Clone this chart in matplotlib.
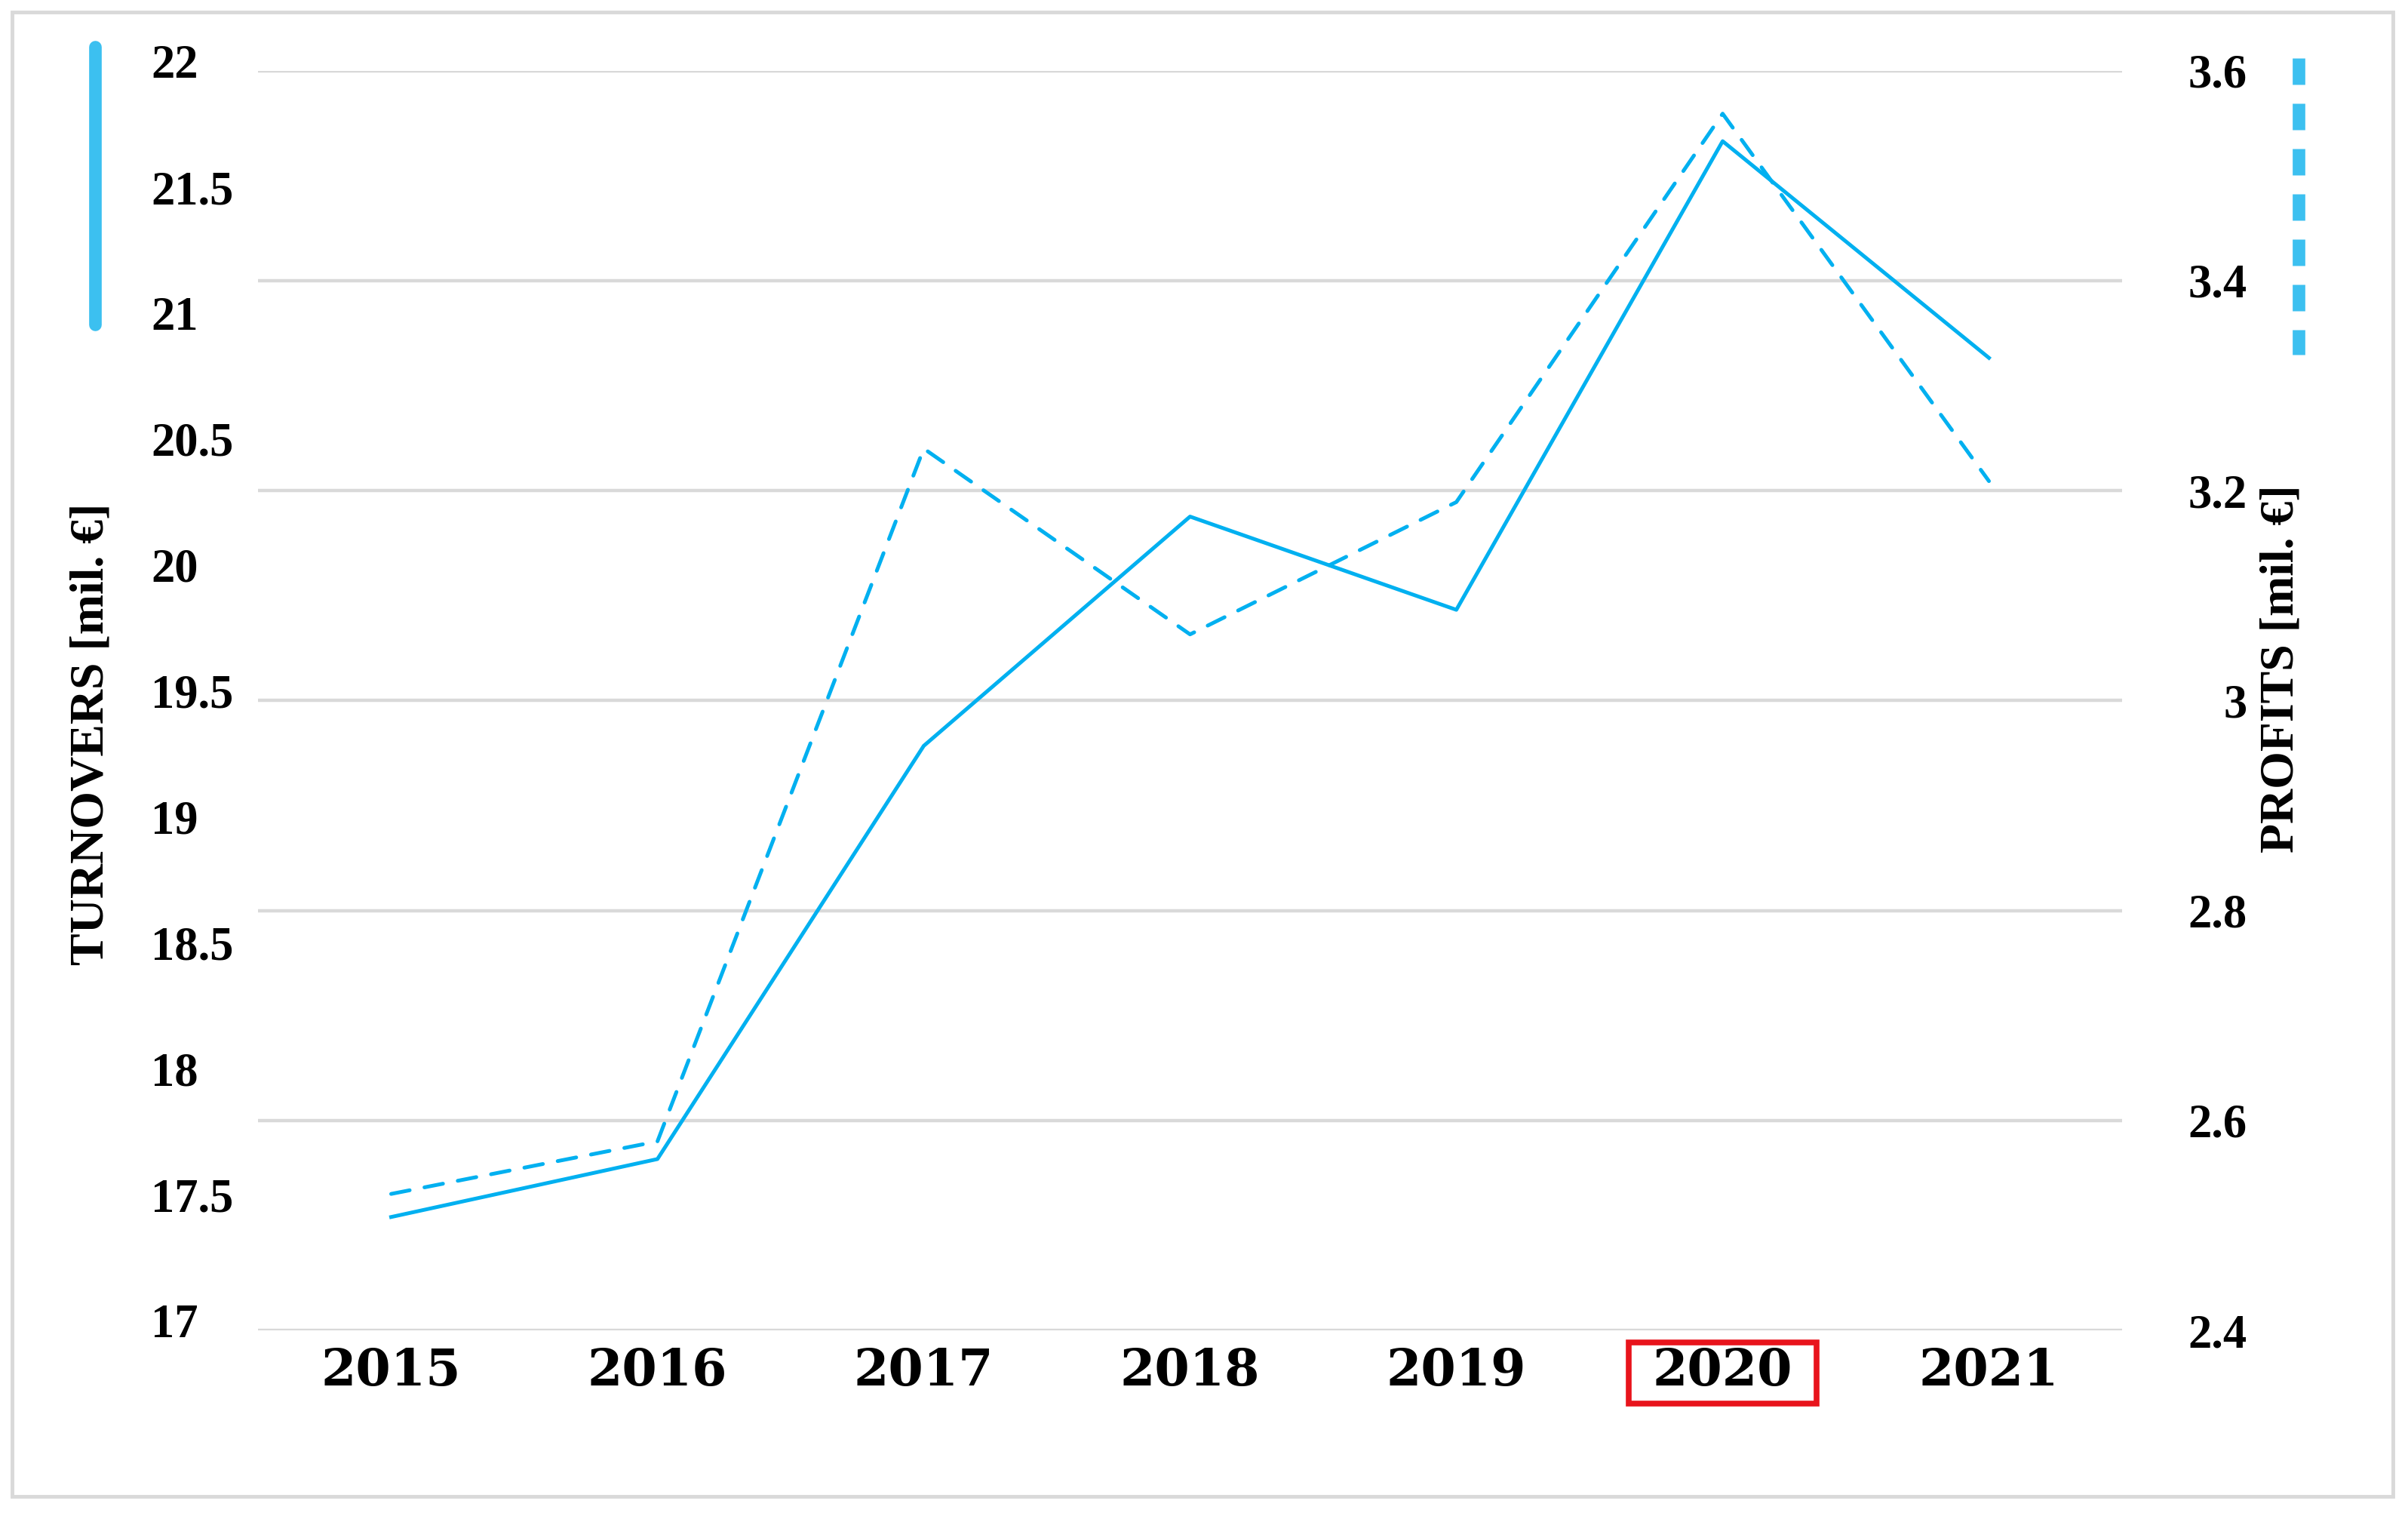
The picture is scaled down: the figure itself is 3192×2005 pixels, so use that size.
import matplotlib.pyplot as plt
from matplotlib.lines import Line2D
from matplotlib.patches import Rectangle
from matplotlib.transforms import ScaledTranslation

# data
years = ['2015', '2016', '2017', '2018', '2019', '2020', '2021']
turnovers = [17.45, 17.68, 19.32, 20.23, 19.86, 21.72, 20.86]  # mil. EUR, left axis
profits = [2.53, 2.58, 3.24, 3.063, 3.189, 3.559, 3.209]  # mil. EUR, right axis

left_ticks = [17, 17.5, 18, 18.5, 19, 19.5, 20, 20.5, 21, 21.5, 22]
right_ticks = [2.4, 2.6, 2.8, 3.0, 3.2, 3.4, 3.6]
highlight_year = '2020'

LINE_COLOR = '#00B0F0'
KEY_COLOR = '#3CC0F0'
GRID_COLOR = '#D9D9D9'
SERIF = 'Liberation Serif'

W, H = 3192, 2005
DPI = 100

fig = plt.figure(figsize=(W / DPI, H / DPI), dpi=DPI)
fig.patch.set_facecolor('white')

ax = fig.add_axes([342 / W, 1 - 1763 / H, (2813 - 342) / W, (1763 - 93.6) / H])
ax2 = ax.twinx()

# profits on the right axis, grid comes from this one
ax2.plot(range(len(years)), profits, color=LINE_COLOR, lw=3.6,
         linestyle=(0, (5.0, 4.0)), dash_capstyle='round')
ax2.set_ylim(2.4, 3.6)
ax2.set_yticks(right_ticks)
ax2.set_yticklabels(['%g' % t for t in right_ticks])
ax2.grid(axis='y', color=GRID_COLOR, lw=3.2)
ax2.set_axisbelow(True)

# turnovers on the left axis, drawn above
ax.plot(range(len(years)), turnovers, color=LINE_COLOR, lw=3.6)
ax.set_ylim(17, 22)
ax.set_yticks(left_ticks)
ax.set_yticklabels(['%g' % t for t in left_ticks])
ax.set_xlim(-0.5, len(years) - 0.5)
ax.set_xticks(range(len(years)))
ax.set_xticklabels(years)
ax.set_zorder(ax2.get_zorder() + 1)
ax.patch.set_visible(False)

for a in (ax, ax2):
    for s in a.spines.values():
        s.set_visible(False)

ax.tick_params(axis='y', length=0, pad=102)
ax2.tick_params(axis='y', length=0, pad=119)
ax.tick_params(axis='x', length=0, pad=16)

# left labels sit a little higher than the grid in the original
lift = ScaledTranslation(0, 9 / 72, fig.dpi_scale_trans)
for lab in ax.get_yticklabels():
    lab.set_fontfamily(SERIF)
    lab.set_fontweight('bold')
    lab.set_fontsize(45)
    lab.set_ha('left')
    lab.set_transform(lab.get_transform() + lift)
for lab in ax2.get_yticklabels():
    lab.set_fontfamily(SERIF)
    lab.set_fontweight('bold')
    lab.set_fontsize(45)
    lab.set_ha('right')
for lab in ax.get_xticklabels():
    lab.set_fontfamily('DejaVu Serif')
    lab.set_fontweight('bold')
    lab.set_fontsize(48)

# axis titles
fig.text(122 / W, 1 - 973 / H, 'TURNOVERS [mil. €]', rotation=90, ha='center', va='center',
         fontsize=46, fontweight='bold', family=SERIF)
fig.text(3025 / W, 1 - 886 / H, 'PROFITS [mil. €]', rotation=90, ha='center', va='center',
         fontsize=46, fontweight='bold', family=SERIF)

# little line-style keys next to the axes
fig.add_artist(Line2D([126 / W, 126 / W], [1 - 62 / H, 1 - 430 / H], lw=12,
                      color=KEY_COLOR, solid_capstyle='round'))
fig.add_artist(Line2D([3047 / W, 3047 / W], [1 - 77 / H, 1 - 470 / H], lw=12,
                      color=KEY_COLOR, linestyle=(0, (2.1, 1.5)), dash_capstyle='butt'))

# outer frame
fig.add_artist(Rectangle((16 / W, 1 - 1983 / H), (3172 - 16) / W, (1983 - 16) / H,
                         transform=fig.transFigure, fill=False, ec=GRID_COLOR, lw=3.5))

# red box round the highlighted year, sized from the label itself
fig.canvas.draw()
for lab in ax.get_xticklabels():
    if lab.get_text() == highlight_year:
        bb = lab.get_window_extent()
        px = 32
        y0 = bb.y0 - 10
        y1 = bb.y1 + 6
        fig.add_artist(Rectangle(((bb.x0 - px) / W, y0 / H),
                                 (bb.width + 2 * px) / W, (y1 - y0) / H,
                                 transform=fig.transFigure, fill=False, ec='#E8141C', lw=5.5))

fig.savefig('out.png', dpi=DPI, facecolor='white')
